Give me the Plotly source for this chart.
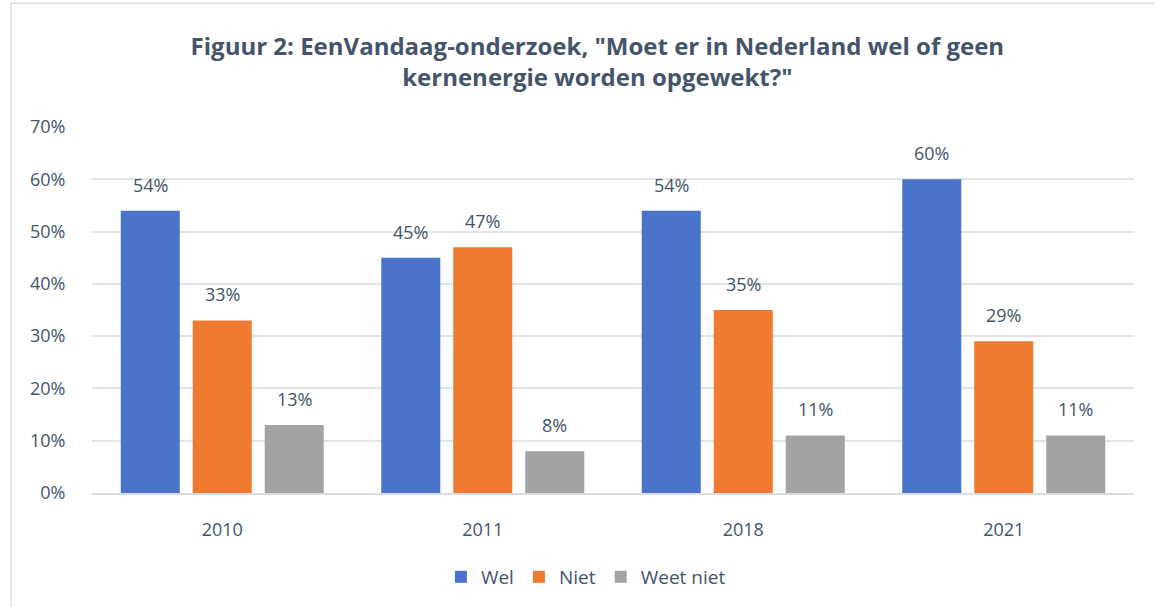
import plotly.graph_objects as go

years = ["2010", "2011", "2018", "2021"]
wel = [54, 45, 54, 60]
niet = [33, 47, 35, 29]
weet_niet = [13, 8, 11, 11]
series = [("Wel", wel, "#4A74C9"), ("Niet", niet, "#EE7B30"), ("Weet niet", weet_niet, "#A3A3A3")]
ytick_vals = [0, 10, 20, 30, 40, 50, 60, 70]
ytick_text = [f"{v}%" for v in ytick_vals]

TXT = "#44546A"
FONT = "Open Sans"

fig = go.Figure()
for name, vals, col in series:
    fig.add_trace(go.Bar(x=years, y=vals, name=name, marker=dict(color=col, line=dict(width=0))))

annotations = []
for i, (name, vals, col) in enumerate(series):
    for j, v in enumerate(vals):
        annotations.append(dict(
            x=j + (i - 1) * 0.2764, y=v, xref="x", yref="y", text=f"{v}%", showarrow=False,
            yanchor="bottom", yshift=12,
            font=dict(family=FONT, size=18, color=TXT)))

fig.update_layout(
    width=1155, height=607,
    paper_bgcolor="white", plot_bgcolor="white",
    margin=dict(l=92, r=21, t=127, b=113),
    barmode="group", bargap=0.171, bargroupgap=0.18,
    title=dict(text='<b>Figuur 2: EenVandaag-onderzoek, "Moet er in Nederland wel of geen<br>kernenergie worden opgewekt?"</b>',
               x=0.485, xanchor="center", y=0.91, yanchor="middle", xref="paper",
               font=dict(family=FONT, size=24, color=TXT)),
    font=dict(family=FONT, color=TXT),
    legend=dict(orientation="h", x=0.474, xanchor="center", y=-0.226, yanchor="middle",
                font=dict(family=FONT, size=19, color=TXT), itemwidth=30, traceorder="normal"),
    annotations=annotations,
    shapes=[dict(type="rect", xref="paper", yref="paper", x0=-0.0777, x1=1.2, y0=-0.5, y1=1.338,
                 line=dict(color="#D9DDE3", width=1.5), fillcolor="rgba(0,0,0,0)", layer="below")],
)
fig.update_yaxes(range=[0, 70], tickvals=ytick_vals, ticktext=ytick_text, showgrid=True,
                 gridcolor="#E1E4E8", gridwidth=1.5, zeroline=False, showline=False,
                 ticks="outside", ticklen=22, tickcolor="rgba(0,0,0,0)",
                 tickfont=dict(family=FONT, size=18, color=TXT))
fig.update_xaxes(type="category", showline=True, linecolor="#D9DDE3", linewidth=1.5, ticks="outside", ticklen=20,
                 tickcolor="rgba(0,0,0,0)", tickfont=dict(family=FONT, size=18, color=TXT))

fig.write_html("out.html", config={"displayModeBar": False},
               post_script="document.body.style.margin='0';")
